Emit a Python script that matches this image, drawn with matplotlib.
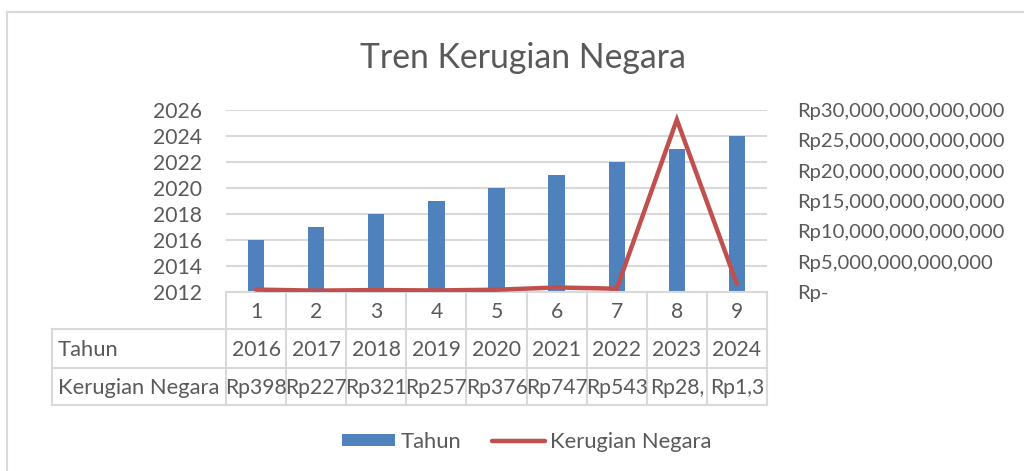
import matplotlib
matplotlib.use("Agg")
import matplotlib.pyplot as plt
from matplotlib.ticker import FuncFormatter
import matplotlib.transforms as mtransforms

plt.rcParams['font.family'] = ['Lato', 'DejaVu Sans']

categories = [1, 2, 3, 4, 5, 6, 7, 8, 9]
tahun = [2016, 2017, 2018, 2019, 2020, 2021, 2022, 2023, 2024]
kerugian = [398e9, 227e9, 321e9, 257e9, 376e9, 747e9, 543e9, 28.4e12, 1.3e12]
kerugian_labels = ["Rp398", "Rp227", "Rp321", "Rp257", "Rp376", "Rp747", "Rp543", "Rp28,", "Rp1,3"]
left_ticks = [2012, 2014, 2016, 2018, 2020, 2022, 2024, 2026]
right_ticks = [0, 5e12, 10e12, 15e12, 20e12, 25e12, 30e12]

W, H = 1024, 471
TXT = '#595959'
GRID = '#D9D9D9'
BLUE = '#4F81BD'
RED = '#C0504D'
FS = 15.2

fig = plt.figure(figsize=(W / 100, H / 100), dpi=100)
fig.patch.set_facecolor('white')

# axes in pixel coordinates
x0, x1, ytop, ybot = 226, 767, 110, 292
ax = fig.add_axes([x0 / W, 1 - ybot / H, (x1 - x0) / W, (ybot - ytop) / H])
ax.set_xlim(0.5, 9.5)
ax.set_ylim(2012, 2026)
ax.set_yticks(left_ticks)
ax.grid(axis='y', color=GRID, linewidth=1.5)
ax.set_axisbelow(True)
for s in ax.spines.values():
    s.set_visible(False)
ax.tick_params(axis='y', length=0, labelsize=FS, labelcolor=TXT, pad=17)
ax.tick_params(axis='x', length=0, labelbottom=False)

bars = ax.bar(categories, tahun, width=0.27, color=BLUE, label='Tahun', zorder=2)

ax2 = ax.twinx()
ax2.set_ylim(0, 30e12)
ax2.set_yticks(right_ticks)
ax2.yaxis.set_major_formatter(FuncFormatter(lambda v, p: 'Rp-' if v == 0 else 'Rp{:,.0f}'.format(v)))
for s in ax2.spines.values():
    s.set_visible(False)
ax2.tick_params(axis='y', length=0, labelsize=14.6, labelcolor=TXT, pad=22)
line, = ax2.plot(categories, kerugian, color=RED, linewidth=3.2, solid_capstyle='round',
                 solid_joinstyle='miter', label='Kerugian Negara', zorder=3)

# data table below the axes
trans = mtransforms.blended_transform_factory(ax.transData, ax.transAxes)
hpx = ybot - ytop
def yf(py):
    return -(py - ybot) / hpx
rows = [292, 329, 368, 405]
lc = GRID
lw = 1.5
ax.plot([0.5, 9.5], [0, 0], transform=trans, color=lc, lw=lw, clip_on=False, zorder=4)
for yy in rows[1:]:
    ax.plot([0.5, 9.5], [yf(yy), yf(yy)], transform=trans, color=lc, lw=lw, clip_on=False)
for k in range(10):
    ax.plot([0.5 + k, 0.5 + k], [0, yf(rows[3])], transform=trans, color=lc, lw=lw, clip_on=False)
hx0 = 52
for r in rows[1:]:
    fig.add_artist(plt.Line2D([hx0 / W, x0 / W], [1 - r / H] * 2, color=lc, lw=lw))
fig.add_artist(plt.Line2D([hx0 / W, hx0 / W], [1 - rows[1] / H, 1 - rows[3] / H], color=lc, lw=lw))

def ymid(a, b):
    return yf((rows[a] + rows[b]) / 2 + 1)
for c, t, k in zip(categories, tahun, kerugian_labels):
    ax.text(c, ymid(0, 1), str(c), transform=trans, ha='center', va='center', fontsize=FS, color=TXT)
    ax.text(c, ymid(1, 2), str(t), transform=trans, ha='center', va='center', fontsize=FS, color=TXT)
    ax.text(c, ymid(2, 3), k, transform=trans, ha='center', va='center', fontsize=FS, color=TXT)
fig.text(58 / W, 1 - ((rows[1] + rows[2]) / 2 + 1) / H, 'Tahun', ha='left', va='center', fontsize=15.8, color=TXT)
fig.text(58 / W, 1 - ((rows[2] + rows[3]) / 2 + 1) / H, 'Kerugian Negara', ha='left', va='center', fontsize=15.8, color=TXT)

# title
fig.text(523 / W, 1 - 58 / H, 'Tren Kerugian Negara', ha='center', va='center', fontsize=24.3, color=TXT)

# legend
leg = fig.legend([bars, line], ['Tahun', 'Kerugian Negara'], loc='center', bbox_to_anchor=(527 / W, 1 - 442 / H),
                 ncol=2, frameon=False, fontsize=15.8, labelcolor=TXT, handlelength=2.4, handletextpad=0.25,
                 columnspacing=1.4, handleheight=0.5)

# outer chart border
fig.add_artist(plt.Line2D([7 / W, 7 / W], [0, 1 - 12 / H], color=GRID, lw=1.5))
fig.add_artist(plt.Line2D([7 / W, 1], [1 - 12 / H, 1 - 12 / H], color=GRID, lw=1.5))

fig.savefig('out.png', dpi=100, facecolor='white')
